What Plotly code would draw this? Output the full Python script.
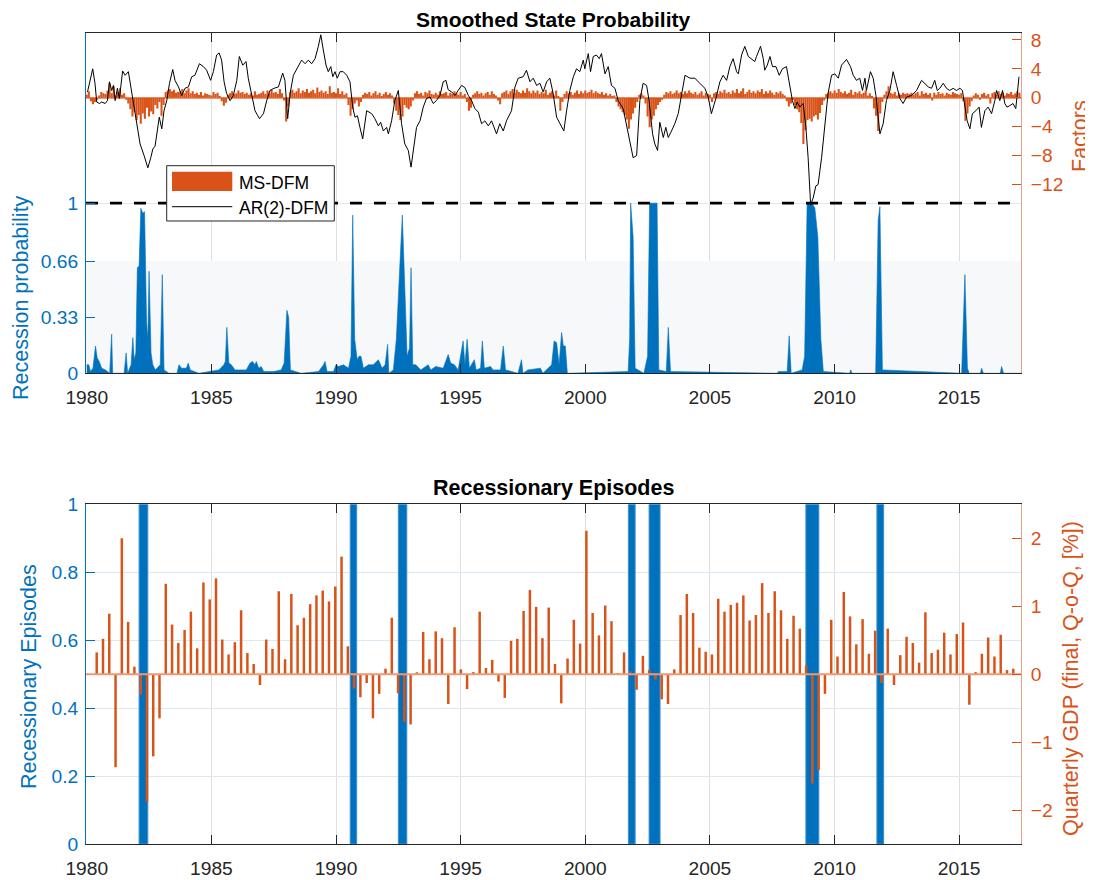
import plotly.graph_objects as go

# ---------------- data ----------------
msdfm_start_year = 1980.0          # monthly series, first month Jan-1980
msdfm_factor = [
    0.4, 0.9, -0.5, -0.9, -0.6, -0.3, 0.3, 0.8, 0.6, 0.5, 1.0, 2.0,      # 1980
    0.6, 1.6, 0.3, 0.8, 1.3, 0.4, 0.6, -0.3, -0.8, -1.6, -2.6, -2.0,     # 1981
    -3.1, -2.4, -3.6, -2.2, -2.9, -1.4, -2.6, -1.9, -2.3, -1.0, -1.5, -0.6,  # 1982
    -2.5, -1.0, 0.8, 1.0, 1.2, 0.9, 1.1, 0.7, 0.8, 0.9, 1.2, 0.6,       # 1983
    1.0, 1.3, 0.6, 0.9, 0.5, 0.7, 0.4, 0.8, 0.3, 0.6, 0.5, 0.4,         # 1984
    0.3, 0.8, 0.5, 0.7, 0.2, -0.5, -1.1, -0.7, 0.4, 0.6, 0.9, 0.5,      # 1985
    0.6, 1.0, 0.7, 0.8, 0.5, 0.7, 0.4, 0.6, 0.3, 0.9, 0.4, 0.5,         # 1986
    0.7, 0.9, 0.5, 1.0, 0.6, 1.1, 0.7, 0.8, 0.5, 1.2, 0.6, -0.4,        # 1987
    -3.3, -1.2, 0.8, 1.1, 0.7, 0.9, 1.3, 0.6, 1.0, 0.8, 1.2, 0.7,       # 1988
    0.9, 1.1, 0.6, 1.4, 0.8, 1.0, 0.7, 0.9, 0.5, 1.6, 0.7, 0.8,         # 1989
    0.6, 1.3, 0.5, 0.9, 0.4, 0.6, -1.0, -2.5, -1.6, -0.8, -0.4, -1.2,   # 1990
    -0.6, 0.4, 0.7, 0.5, 0.8, 0.3, 0.6, 0.9, 0.4, 0.7, 0.2, 0.5,        # 1991
    0.8, 0.4, 0.6, 0.3, -0.8, -1.8, -2.4, -3.1, -2.6, -1.0, -1.4, -1.6, # 1992
    -1.2, -0.4, 0.6, 0.9, 0.5, 0.7, 0.3, 0.8, 0.6, 1.0, 0.5, 0.4,       # 1993
    0.7, 0.4, 0.9, 0.5, 0.6, 0.8, 0.3, 0.7, 0.5, 0.9, 0.6, 0.4,         # 1994
    0.8, 0.3, 0.5, -0.6, -1.8, -1.4, 0.4, 0.6, 0.9, 0.5, 0.7, 0.3,      # 1995
    0.6, 0.8, 0.4, 0.9, 0.5, 0.3, -0.4, -0.9, 0.6, 0.8, 1.0, 0.5,       # 1996
    0.9, 1.2, 0.7, 1.1, 0.8, 0.6, 1.0, 0.7, 1.3, 0.9, 0.6, 1.0,         # 1997
    0.7, 1.0, 0.5, 0.8, 0.6, 1.1, 0.4, 0.7, 0.9, 0.3, 1.0, 0.2,         # 1998
    -1.8, -0.6, 0.5, 0.9, 0.6, 0.8, 0.4, 0.7, 1.0, 0.5, 0.9, 0.6,       # 1999
    1.0, 0.7, 0.8, 1.1, 0.6, 0.9, 0.7, 0.5, 0.8, 0.4, 0.6, 0.3,         # 2000
    0.5, 0.2, 0.3, -0.6, -1.2, -1.6, -2.0, -2.4, -3.0, -4.3, -3.0, -2.2,  # 2001
    -1.4, -0.6, 0.4, 0.6, 0.3, -0.8, -2.6, -4.1, -3.0, -2.5, -1.6, -1.0,  # 2002
    -0.6, -0.3, 0.4, 0.8, 0.6, 0.9, 0.5, 0.7, 1.0, 0.6, 0.8, 0.5,       # 2003
    0.9, 0.6, 1.0, 0.7, 0.5, 0.8, 0.4, 0.6, 0.9, 0.3, 0.7, 0.5,         # 2004
    0.4, -0.6, 0.6, 0.8, 0.5, 0.9, 0.7, 1.1, 0.6, 0.8, 0.5, 1.0,        # 2005
    0.7, 1.2, 0.6, 0.9, 1.3, 0.5, 0.8, 1.1, 0.7, 0.9, 0.6, 1.0,         # 2006
    0.8, 1.2, 0.5, 0.9, 0.6, 1.0, 0.7, 0.4, 0.8, 0.6, 0.9, 0.5,         # 2007
    0.3, -0.5, -1.2, -0.8, -0.3, -1.0, -1.6, -2.0, -3.5, -6.4, -4.5, -3.1,  # 2008
    -2.9, -3.3, -2.6, -2.4, -3.0, -2.1, -1.0, -0.4, 0.5, 0.7, 0.9, 0.6, # 2009
    1.0, 0.7, 1.2, 0.8, 0.6, 0.9, 0.5, 0.7, 1.1, 0.4, 0.8, 0.6,         # 2010
    0.9, 0.5, 0.7, 1.0, 0.3, 0.6, 0.2, -1.5, -2.5, -4.6, -2.2, -0.6,    # 2011
    0.4, 0.9, 1.6, 0.7, 0.5, 0.8, 0.3, 0.6, 0.4, 0.7, 0.5, 0.6,         # 2012
    0.5, 0.7, 0.4, 0.6, 0.8, 0.3, 0.9, 0.5, 0.7, 0.4, 0.6, -0.4,        # 2013
    0.7, 0.4, 0.8, 0.5, 0.6, 0.3, 0.7, 0.5, 0.4, 0.8, 0.6, 0.5,         # 2014
    0.4, 0.6, -0.5, -3.2, -2.2, -1.2, -0.5, 0.3, 0.6, 0.4, -0.3, 0.5,   # 2015
    0.7, 0.3, 0.5, -0.8, 0.6, 0.8, 0.4, 0.9, 0.5, 0.7, 0.3, 0.6,        # 2016
    0.5, 0.8, 0.4, 0.6, 0.9, 0.7,                                       # 2017
]

ar2_years = [
    1980.03, 1980.11, 1980.24, 1980.33, 1980.40, 1980.51, 1980.60, 1980.74, 1980.83, 1980.91,
    1981.00, 1981.07, 1981.14, 1981.23, 1981.31, 1981.44, 1981.54, 1981.67, 1981.80, 1981.87,
    1982.01, 1982.14, 1982.30, 1982.45, 1982.57, 1982.65, 1982.74, 1982.83, 1982.91, 1983.01,
    1983.10, 1983.21, 1983.32, 1983.45, 1983.54, 1983.68, 1983.81, 1983.94, 1984.08, 1984.21,
    1984.34, 1984.52, 1984.68, 1984.81, 1984.97, 1985.08, 1985.21, 1985.31, 1985.41, 1985.51,
    1985.61, 1985.75, 1985.88, 1986.02, 1986.12, 1986.26, 1986.39, 1986.48, 1986.62, 1986.75,
    1986.93, 1987.09, 1987.22, 1987.35, 1987.51, 1987.69, 1987.86, 1987.95, 1988.06, 1988.16,
    1988.29, 1988.40, 1988.53, 1988.62, 1988.76, 1988.89, 1989.02, 1989.16, 1989.29, 1989.39,
    1989.49, 1989.60, 1989.69, 1989.79, 1989.87, 1989.96, 1990.05, 1990.16, 1990.29, 1990.43,
    1990.56, 1990.67, 1990.76, 1990.86, 1990.96, 1991.07, 1991.23, 1991.43, 1991.56, 1991.70,
    1991.79, 1991.90, 1992.03, 1992.10, 1992.23, 1992.36, 1992.50, 1992.63, 1992.76, 1992.90,
    1993.01, 1993.10, 1993.23, 1993.37, 1993.50, 1993.63, 1993.77, 1993.90, 1994.03, 1994.17,
    1994.30, 1994.41, 1994.50, 1994.64, 1994.77, 1994.90, 1995.04, 1995.17, 1995.31, 1995.44,
    1995.57, 1995.71, 1995.84, 1995.97, 1996.11, 1996.24, 1996.44, 1996.57, 1996.71, 1996.84,
    1997.04, 1997.18, 1997.31, 1997.51, 1997.64, 1997.78, 1997.91, 1998.05, 1998.18, 1998.31,
    1998.45, 1998.58, 1998.71, 1998.85, 1998.98, 1999.14, 1999.25, 1999.38, 1999.52, 1999.65,
    1999.78, 1999.92, 1999.98, 2000.12, 2000.21, 2000.32, 2000.45, 2000.56, 2000.65, 2000.79,
    2000.92, 2001.05, 2001.19, 2001.32, 2001.52, 2001.66, 2001.79, 2001.92, 2002.06, 2002.19,
    2002.32, 2002.46, 2002.56, 2002.70, 2002.79, 2002.90, 2002.99, 2003.13, 2003.23, 2003.33,
    2003.46, 2003.59, 2003.73, 2003.86, 2004.00, 2004.20, 2004.40, 2004.53, 2004.66, 2004.80,
    2004.93, 2005.06, 2005.24, 2005.40, 2005.53, 2005.67, 2005.80, 2005.93, 2006.07, 2006.14,
    2006.27, 2006.40, 2006.54, 2006.67, 2006.80, 2006.87, 2007.03, 2007.14, 2007.20, 2007.30,
    2007.41, 2007.51, 2007.65, 2007.78, 2007.91, 2008.07, 2008.21, 2008.31, 2008.41, 2008.50,
    2008.61, 2008.74, 2008.85, 2008.94, 2009.04, 2009.14, 2009.25, 2009.34, 2009.48, 2009.61,
    2009.74, 2009.88, 2010.01, 2010.15, 2010.28, 2010.48, 2010.64, 2010.75, 2010.88, 2011.01,
    2011.12, 2011.22, 2011.28, 2011.44, 2011.55, 2011.66, 2011.75, 2011.82, 2011.95, 2012.08,
    2012.22, 2012.35, 2012.49, 2012.62, 2012.75, 2012.89, 2013.09, 2013.29, 2013.49, 2013.62,
    2013.76, 2013.89, 2014.02, 2014.12, 2014.22, 2014.36, 2014.49, 2014.62, 2014.76, 2014.89,
    2015.03, 2015.13, 2015.23, 2015.32, 2015.43, 2015.53, 2015.67, 2015.80, 2015.89, 2016.03,
    2016.16, 2016.30, 2016.43, 2016.50, 2016.63, 2016.74, 2016.83, 2016.92, 2017.03, 2017.16,
    2017.27, 2017.36, 2017.40,
]
ar2_values = [
    0.8, 2.2, 4.0, 2.0, -0.6, -0.8, -0.6, -0.8, -0.4, 2.2,
    1.0, 1.7, -0.4, 1.3, -0.1, 3.7, 3.1, 3.6, 1.0, -0.8,
    -3.2, -6.4, -8.0, -9.7, -8.3, -7.1, -6.7, -4.3, -2.7, -4.3,
    -1.8, -0.4, 2.0, 3.9, 2.4, 1.5, 0.3, 1.3, 1.5, 2.9,
    3.1, 4.7, 4.3, 3.8, 2.4, 3.6, 5.9, 6.2, 5.2, 2.2,
    0.6, -0.4, 0.3, 2.4, 5.7, 4.5, 5.0, 2.7, 0.1, -1.8,
    -2.9, -2.2, -0.4, 1.0, 1.3, 1.5, 3.4, 2.4, -2.9, 0.6,
    3.1, 3.8, 4.7, 5.2, 4.7, 5.2, 4.7, 5.4, 7.1, 8.7,
    6.6, 4.5, 3.6, 4.3, 2.9, 3.6, 2.7, 3.6, 3.6, 3.1,
    2.2, -1.3, -2.7, -2.5, -4.1, -5.7, -1.8, -2.2, -2.9, -3.9,
    -3.4, -4.6, -4.1, -5.0, -3.2, -0.4, 1.0, -3.6, -6.4, -7.3,
    -9.6, -7.3, -4.1, -3.2, -1.3, -0.1, 0.1, -0.8, -0.4, 0.3,
    2.2, 2.4, 1.1, 0.8, 0.3, 1.0, 1.7, 1.4, 0.3, -0.4,
    -1.5, -2.0, -3.6, -3.2, -3.9, -3.2, -5.0, -3.6, -4.6, -3.2,
    -1.8, 1.5, 2.7, 2.9, 3.8, 2.2, 2.7, 1.7, 2.0, 0.8,
    2.2, 2.7, 0.6, -2.7, -3.6, -4.6, -1.8, 1.0, 2.9, 4.0,
    3.6, 5.2, 4.0, 6.1, 3.6, 5.7, 5.9, 5.4, 6.1, 3.3,
    4.3, 1.7, 1.3, -0.4, -1.5, -3.9, -6.0, -8.3, -8.0, -0.4,
    2.0, 1.7, -0.4, -5.0, -6.4, -7.3, -3.4, -5.5, -4.1, -5.5,
    -4.6, -3.6, -2.2, 0.1, 3.1, 2.7, 2.7, 2.2, 1.7, 1.3,
    0.1, -2.2, -0.1, 2.2, 3.1, 2.4, 4.3, 5.4, 3.6, 3.3,
    5.9, 7.1, 5.7, 5.4, 5.0, 5.7, 7.1, 5.4, 3.8, 4.5,
    5.7, 4.3, 4.3, 3.1, 4.0, 4.3, 1.5, -0.4, -1.5, -0.6,
    -1.3, -0.8, -4.1, -8.3, -14.8, -13.9, -12.2, -12.0, -8.3, -4.1,
    0.6, 3.1, 3.3, 2.7, 4.5, 5.3, 4.3, 3.1, 2.4, 2.7,
    1.0, 2.7, 1.0, 3.6, 2.7, 0.3, -2.7, -5.0, -3.6, -0.4,
    1.0, 3.6, 1.7, -0.1, -0.8, 0.1, 0.3, 1.0, 2.4, 2.0,
    1.5, 1.3, 2.4, 1.0, 1.3, 2.0, 1.3, 1.0, 1.3, 1.0,
    1.3, 1.0, -1.3, -3.2, -4.3, -2.2, -1.8, -1.3, -4.1, -1.8,
    -1.3, -2.2, -0.4, 1.0, -0.4, 1.0, -0.8, -1.3, -1.1, -0.8,
    -1.5, 1.5, 2.9,
]

prob_years = [
    1980.00, 1980.08, 1980.15, 1980.25, 1980.35, 1980.42, 1980.50, 1980.60, 1980.75, 1980.92,
    1981.00, 1981.04, 1981.50, 1981.58, 1981.64, 1981.78, 1981.85, 1981.90, 1981.97, 1982.03,
    1982.10, 1982.17, 1982.25, 1982.32, 1982.40, 1982.45, 1982.50, 1982.58, 1982.65, 1982.75,
    1982.95, 1983.03, 1983.10, 1983.30, 1983.62, 1983.70, 1983.80, 1984.00, 1984.07, 1984.15,
    1984.50, 1985.00, 1985.30, 1985.50, 1985.56, 1985.62, 1985.70, 1985.80, 1985.95, 1986.40,
    1986.55, 1986.65, 1986.75, 1986.80, 1986.90, 1987.00, 1987.10, 1987.50, 1987.80, 1987.92,
    1988.03, 1988.10, 1988.17, 1988.60, 1989.30, 1989.50, 1989.56, 1989.64, 1989.90, 1990.00,
    1990.10, 1990.30, 1990.50, 1990.60, 1990.67, 1990.75, 1990.85, 1990.92, 1991.00, 1991.10,
    1991.30, 1991.50, 1991.70, 1991.85, 1991.97, 1992.07, 1992.12, 1992.30, 1992.42, 1992.55,
    1992.66, 1992.76, 1992.85, 1992.95, 1993.01, 1993.08, 1993.20, 1993.40, 1993.70, 1993.80,
    1994.00, 1994.30, 1994.50, 1994.60, 1994.75, 1994.90, 1995.10, 1995.17, 1995.26, 1995.35,
    1995.55, 1995.62, 1995.80, 1995.87, 1995.95, 1996.20, 1996.30, 1996.60, 1996.71, 1996.80,
    1997.30, 1997.44, 1997.50, 1997.70, 1998.20, 1998.30, 1998.65, 1998.75, 1998.85, 1998.95,
    1999.05, 1999.12, 1999.20, 1999.28, 2001.30, 2001.72, 2001.78, 2001.82, 2001.92, 2002.00,
    2002.35, 2002.50, 2002.58, 2002.88, 2002.95, 2003.25, 2003.33, 2003.42, 2007.70, 2007.75,
    2008.10, 2008.18, 2008.26, 2008.70, 2008.80, 2008.90, 2009.10, 2009.21, 2009.33, 2009.45,
    2009.55, 2010.60, 2010.65, 2010.70, 2011.65, 2011.75, 2011.82, 2011.92, 2015.10, 2015.23,
    2015.33, 2015.40, 2015.85, 2015.90, 2015.97, 2016.65, 2016.70, 2016.78, 2017.50,
]
prob_values = [
    0.05, 0.05, 0.01, 0.03, 0.16, 0.09, 0.07, 0.03, 0.02, 0.00,
    0.23, 0.00, 0.00, 0.12, 0.00, 0.05, 0.21, 0.08, 0.12, 0.62,
    0.63, 0.97, 0.94, 0.95, 0.30, 0.20, 0.60, 0.12, 0.05, 0.02,
    0.05, 0.58, 0.02, 0.00, 0.00, 0.05, 0.03, 0.03, 0.06, 0.02,
    0.00, 0.01, 0.02, 0.05, 0.07, 0.27, 0.06, 0.05, 0.02, 0.02,
    0.06, 0.07, 0.05, 0.07, 0.03, 0.04, 0.01, 0.01, 0.02, 0.06,
    0.37, 0.33, 0.02, 0.00, 0.01, 0.05, 0.07, 0.01, 0.01, 0.05,
    0.04, 0.05, 0.03, 0.10, 0.93, 0.20, 0.08, 0.10, 0.10, 0.03,
    0.05, 0.05, 0.08, 0.03, 0.05, 0.17, 0.00, 0.02, 0.20, 0.60,
    0.93, 0.50, 0.10, 0.15, 0.62, 0.05, 0.05, 0.02, 0.05, 0.02,
    0.04, 0.03, 0.11, 0.06, 0.05, 0.02, 0.19, 0.05, 0.20, 0.03,
    0.08, 0.02, 0.03, 0.19, 0.03, 0.04, 0.02, 0.02, 0.16, 0.02,
    0.00, 0.08, 0.00, 0.02, 0.03, 0.00, 0.05, 0.19, 0.18, 0.05,
    0.24, 0.16, 0.16, 0.00, 0.01, 0.01, 0.20, 1.00, 0.80, 0.03,
    0.00, 0.10, 1.00, 1.00, 0.02, 0.01, 0.27, 0.01, 0.00, 0.01,
    0.01, 0.22, 0.00, 0.02, 0.10, 1.00, 1.00, 0.97, 0.80, 0.20,
    0.01, 0.00, 0.02, 0.00, 0.00, 0.90, 0.98, 0.02, 0.00, 0.58,
    0.03, 0.00, 0.00, 0.03, 0.00, 0.00, 0.04, 0.00, 0.00,
]

recession_threshold = 1.0
shade_level = 0.66

episode_start = [1982.10, 1990.57, 1992.50, 2001.73, 2002.56, 2008.85, 2011.70]
episode_end = [1982.45, 1990.83, 1992.84, 2002.00, 2003.00, 2009.37, 2011.97]

gdp_first_year, gdp_last_year = 1980.40, 2017.17
gdp_growth = [
    0.32, 0.52, 0.89, -1.37, 2.00, 0.77, 0.11, -0.30, -1.88, -1.21,
    -0.65, 1.33, 0.73, 0.46, 0.65, 0.92, 0.38, 1.35, 1.10, 1.41,
    0.51, 0.29, 0.47, 0.94, 0.31, 0.15, -0.16, 0.51, 0.37, 1.22,
    0.22, 1.18, 0.72, 0.83, 1.03, 1.16, 1.23, 1.07, 1.29, 1.73,
    0.41, -0.21, -0.34, -0.13, -0.65, -0.29, 0.08, 0.83, -0.28, -0.70,
    -0.74, 0.02, 0.62, 0.22, 0.63, 0.53, -0.44, 0.69, 0.07, -0.22,
    0.03, 0.92, 0.09, 0.21, -0.11, -0.35, 0.49, 0.52, 0.93, 1.24,
    0.99, 0.53, 0.98, 0.15, -0.43, 0.23, 0.80, 0.45, 2.11, 0.90,
    0.57, 1.01, 0.78, 0.01, 0.32, 0.04, -0.23, 0.27, 0.06, -0.08,
    -0.37, -0.44, 0.07, 0.87, 1.18, 0.90, 0.39, 0.33, 0.29, 1.11,
    0.92, 1.02, 1.05, 1.16, 0.79, 0.87, 1.34, 0.90, 1.22, 0.94,
    0.52, 0.86, 0.67, 0.13, -1.61, -1.41, -0.29, 0.80, 0.26, 1.21,
    0.85, 0.44, 0.81, 0.30, 0.64, -0.13, 0.67, -0.16, 0.28, 0.55,
    0.46, 0.17, 0.91, 0.31, 0.36, 0.61, 0.29, 0.59, 0.76, -0.45,
    0.03, 0.30, 0.54, 0.26, 0.58, 0.06, 0.08,
]

year_ticks = [1980, 1985, 1990, 1995, 2000, 2005, 2010, 2015]
prob_ticks = [0, 0.33, 0.66, 1]
factor_ticks = [8, 4, 0, -4, -8, -12]
episode_ticks = [0, 0.2, 0.4, 0.6, 0.8, 1]
gdp_ticks = [-2, -1, 0, 1, 2]

# ---------------- derived x positions ----------------
msdfm_years = [msdfm_start_year + i / 12 for i in range(len(msdfm_factor))]
n_gdp = len(gdp_growth)
gdp_years = [gdp_first_year + i * (gdp_last_year - gdp_first_year) / (n_gdp - 1) for i in range(n_gdp)]
episode_center = [(s + e) / 2 for s, e in zip(episode_start, episode_end)]
episode_width = [e - s for s, e in zip(episode_start, episode_end)]

# ---------------- styling / layout helpers ----------------
# the page body adds an 8px offset; the figure is sized so that the
# plot areas land at the same window pixels as in the reference.
PAGE_OFF = 8
W, H = 1093 - PAGE_OFF, 880 - PAGE_OFF
PLOT_L, PLOT_R, PLOT_T, PLOT_B = 86, 1021, 33, 844       # window pixels
ML, MT = PLOT_L - PAGE_OFF, PLOT_T - PAGE_OFF
MR = W + PAGE_OFF - PLOT_R
MB = H + PAGE_OFF - PLOT_B
X_RANGE = [1979.97, 2017.48]

BLUE = '#0072BD'
ORANGE = '#D95319'
DARK = '#262626'
FONT = 'Liberation Sans, Arial, Helvetica, sans-serif'
GRID_GRAY = '#dfdfdf'
GRID_BLUE = '#dbe9f4'


def px2x(px):
    return (px - PLOT_L) / (PLOT_R - PLOT_L)


def py2y(py):
    return (PLOT_B - py) / (PLOT_B - PLOT_T)


top_dom = [py2y(373.3), 1.0]
bot_dom = [0.0, py2y(504.3)]

fig = go.Figure()

# ---- top panel: recession probability (left axis) ----
fig.add_trace(go.Scatter(
    x=prob_years, y=prob_values, mode='lines', fill='tozeroy',
    line=dict(color=BLUE, width=0.6), fillcolor=BLUE,
    xaxis='x', yaxis='y', showlegend=False, hoverinfo='skip'))
fig.add_trace(go.Scatter(
    x=X_RANGE, y=[recession_threshold, recession_threshold], mode='lines',
    line=dict(color='black', width=2.6, dash='12px,12px'),
    xaxis='x', yaxis='y', showlegend=False, hoverinfo='skip'))

# ---- top panel: factors (right axis) ----
fig.add_trace(go.Bar(
    x=msdfm_years, y=msdfm_factor, width=1 / 12, name='MS-DFM',
    marker=dict(color=ORANGE, line=dict(width=0)),
    xaxis='x', yaxis='y2', showlegend=False))
fig.add_trace(go.Scatter(
    x=ar2_years, y=ar2_values, mode='lines', name='AR(2)-DFM',
    line=dict(color='black', width=1),
    xaxis='x', yaxis='y2', showlegend=False))

# ---- bottom panel ----
fig.add_trace(go.Bar(
    x=episode_center, y=[1] * len(episode_center), width=episode_width,
    marker=dict(color=BLUE, line=dict(color='#3f8fcc', width=1)),
    xaxis='x2', yaxis='y3', showlegend=False))
fig.add_trace(go.Scatter(
    x=X_RANGE, y=[0, 0], mode='lines', line=dict(color='#ec9a74', width=2),
    xaxis='x2', yaxis='y4', showlegend=False, hoverinfo='skip'))
fig.add_trace(go.Bar(
    x=gdp_years, y=gdp_growth, width=0.1,
    marker=dict(color=ORANGE, line=dict(width=0)),
    xaxis='x2', yaxis='y4', showlegend=False))

xcommon = dict(
    range=X_RANGE, tickvals=year_ticks, ticks='inside', ticklen=9, tickwidth=1,
    tickcolor=DARK, showline=True, linecolor=DARK, linewidth=1, mirror='ticks',
    showgrid=True, gridcolor=GRID_GRAY, gridwidth=1, zeroline=False,
    tickfont=dict(family=FONT, size=19.2, color=DARK), ticklabelstandoff=7,
)

fig.update_layout(
    width=W, height=H, margin=dict(l=ML, r=MR, t=MT, b=MB, autoexpand=False),
    paper_bgcolor='white', plot_bgcolor='white',
    barmode='overlay', font=dict(family=FONT),
    xaxis=dict(domain=[0, 1], anchor='y', **xcommon),
    yaxis=dict(domain=top_dom, anchor='x', range=[0, 2.0], tickvals=prob_ticks,
               ticktext=['0', '0.33', '0.66', '1'], ticks='inside', ticklen=9,
               tickcolor=BLUE, showline=True, linecolor=BLUE, showgrid=True,
               gridcolor=GRID_BLUE, zeroline=False, ticklabelstandoff=3,
               tickfont=dict(family=FONT, size=19.2, color=BLUE)),
    yaxis2=dict(overlaying='y', side='right', anchor='x', range=[-38.12, 8.95],
                tickvals=factor_ticks, ticks='inside', ticklen=9, tickcolor=ORANGE,
                showline=True, linecolor='#e6a283', showgrid=False,
                zeroline=True, zerolinecolor='#ec9a74', zerolinewidth=2,
                ticklabelstandoff=5,
                tickfont=dict(family=FONT, size=19.2, color=ORANGE)),
    xaxis2=dict(domain=[0, 1], anchor='y3', **xcommon),
    yaxis3=dict(domain=bot_dom, anchor='x2', range=[0, 1], tickvals=episode_ticks,
                ticks='inside', ticklen=9, tickcolor=BLUE, showline=True,
                linecolor=BLUE, showgrid=True, gridcolor=GRID_BLUE, zeroline=False,
                ticklabelstandoff=3,
                tickfont=dict(family=FONT, size=19.2, color=BLUE)),
    yaxis4=dict(overlaying='y3', side='right', anchor='x2', range=[-2.5, 2.5],
                tickvals=gdp_ticks, ticks='inside', ticklen=9, tickcolor=ORANGE,
                showline=True, linecolor='#e6a283', showgrid=False, zeroline=False,
                ticklabelstandoff=5,
                tickfont=dict(family=FONT, size=19.2, color=ORANGE)),
)

# light shaded band 0 .. 0.66 (drawn over the grid, under the data)
fig.add_shape(type='rect', xref='x', yref='y', x0=X_RANGE[0], x1=X_RANGE[1],
              y0=0, y1=shade_level, fillcolor='#f6f8fa', line=dict(width=0),
              layer='between')

# manual legend (MATLAB style)
fig.add_shape(type='rect', xref='paper', yref='paper',
              x0=px2x(166.7), x1=px2x(334.3), y0=py2y(221), y1=py2y(165.7),
              fillcolor='white', line=dict(color=DARK, width=1), layer='above')
fig.add_shape(type='rect', xref='paper', yref='paper',
              x0=px2x(172), x1=px2x(232.3), y0=py2y(191), y1=py2y(171.7),
              fillcolor=ORANGE, line=dict(width=0), layer='above')
fig.add_shape(type='line', xref='paper', yref='paper',
              x0=px2x(172), x1=px2x(232.3), y0=py2y(206.7), y1=py2y(206.7),
              line=dict(color='black', width=1), layer='above')

ann = []
ann.append(dict(text='MS-DFM', x=px2x(236.5), y=py2y(183), xanchor='left', yanchor='middle',
                font=dict(family=FONT, size=17.5, color='black')))
ann.append(dict(text='AR(2)-DFM', x=px2x(236.5), y=py2y(207.5), xanchor='left', yanchor='middle',
                font=dict(family=FONT, size=17.5, color='black')))
ann.append(dict(text='<b>Smoothed State Probability</b>', x=px2x(553.5), y=py2y(19),
                xanchor='center', yanchor='middle',
                font=dict(family=FONT, size=21, color='black')))
ann.append(dict(text='<b>Recessionary Episodes</b>', x=px2x(553.5), y=py2y(488),
                xanchor='center', yanchor='middle',
                font=dict(family=FONT, size=21.5, color='black')))
ann.append(dict(text='Recession probability', x=px2x(21), y=py2y(298), textangle=-90,
                xanchor='center', yanchor='middle',
                font=dict(family=FONT, size=21.5, color=BLUE)))
ann.append(dict(text='Factors', x=px2x(1080), y=py2y(136), textangle=-90,
                xanchor='center', yanchor='middle',
                font=dict(family=FONT, size=21.5, color=ORANGE)))
ann.append(dict(text='Recessionary Episodes', x=px2x(29), y=py2y(677), textangle=-90,
                xanchor='center', yanchor='middle',
                font=dict(family=FONT, size=21.5, color=BLUE)))
ann.append(dict(text='Quarterly GDP (final, Q-o-Q, [%])', x=px2x(1071), y=py2y(679),
                textangle=-90, xanchor='center', yanchor='middle',
                font=dict(family=FONT, size=21.5, color=ORANGE)))
for a in ann:
    a.update(xref='paper', yref='paper', showarrow=False)
fig.update_layout(annotations=ann)

fig.write_html('out.html')
